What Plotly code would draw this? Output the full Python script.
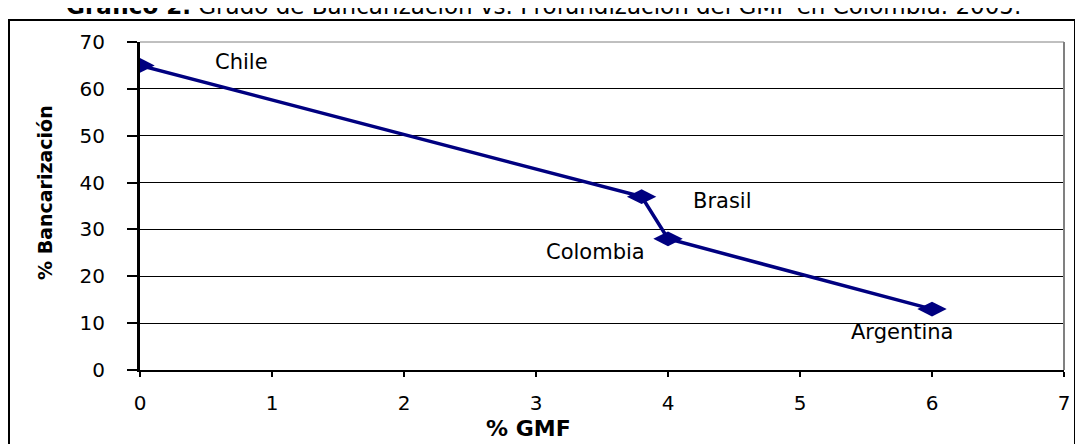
import plotly.graph_objects as go

countries = ["Chile", "Brasil", "Colombia", "Argentina"]
gmf = [0, 3.8, 4.0, 6.0]
bancarizacion = [65, 37, 28, 13]
label_x = [0.77, 4.41, 3.45, 5.77]
label_y = [65.8, 36.1, 25.2, 8.1]

OFF = 8  # body margin of the page
W, H = 1083 - OFF, 444 - OFF
L, R, T, B = 140 - OFF, 1064 - OFF, 42 - OFF, 370 - OFF

def px(x):
    return (x - OFF - L) / (R - L)

def py(y):
    return (B - (y - OFF)) / (B - T)

fig = go.Figure()
fig.add_trace(go.Scatter(
    x=gmf, y=bancarizacion, mode="lines+markers",
    line=dict(color="#000080", width=3.5),
    marker=dict(symbol="diamond-wide", size=21, color="#000080"),
    showlegend=False, hoverinfo="skip"))

font = "DejaVu Sans, Liberation Sans, Arial, sans-serif"
for name, lx, ly in zip(countries, label_x, label_y):
    fig.add_annotation(x=lx, y=ly, text=name, showarrow=False,
                       xanchor="center", yanchor="middle",
                       font=dict(family=font, size=21, color="black"))

# outer frame
fig.add_shape(type="rect", xref="paper", yref="paper",
              x0=px(9), x1=px(1075), y0=py(470), y1=py(20),
              line=dict(color="black", width=2), layer="below")
# plot-area top and right border
fig.add_shape(type="line", xref="paper", yref="paper", x0=0, x1=1, y0=1, y1=1,
              line=dict(color="#808080", width=1))
fig.add_shape(type="line", xref="paper", yref="paper", x0=1, x1=1, y0=0, y1=1,
              line=dict(color="#808080", width=2))

fig.add_annotation(xref="paper", yref="paper", x=px(543), y=py(21), yanchor="bottom",
                   xanchor="center",
                   text="<b>Gráfico 2.</b> Grado de Bancarización vs. Profundización del GMF en Colombia. 2005.",
                   showarrow=False, font=dict(family=font, size=23, color="black"))
fig.add_annotation(xref="paper", yref="paper", x=px(45), y=py(193),
                   xanchor="center", yanchor="middle",
                   text="<b>% Bancarización</b>", textangle=-90, showarrow=False,
                   font=dict(family=font, size=19, color="black"))
fig.add_annotation(xref="paper", yref="paper", x=px(528), y=py(428),
                   xanchor="center", yanchor="middle",
                   text="<b>% GMF</b>", showarrow=False,
                   font=dict(family=font, size=22, color="black"))

fig.update_xaxes(range=[0, 7], dtick=1, showgrid=False, zeroline=False,
                 showline=True, linecolor="black", linewidth=2,
                 ticks="outside", ticklen=5, tickwidth=2, tickcolor="black",
                 ticklabelstandoff=9,
                 tickfont=dict(family=font, size=20, color="black"), fixedrange=True)
fig.update_yaxes(range=[0, 70], dtick=10, showgrid=True, gridcolor="black", gridwidth=1,
                 zeroline=False, showline=True, linecolor="black", linewidth=3,
                 ticks="outside", ticklen=10, tickwidth=2, tickcolor="black",
                 ticklabelstandoff=18,
                 tickfont=dict(family=font, size=20, color="black"), fixedrange=True)

fig.update_layout(width=W, height=H, margin=dict(l=L, r=W - R, t=T, b=H - B),
                  plot_bgcolor="white", paper_bgcolor="white")

fig.write_html("out.html")
